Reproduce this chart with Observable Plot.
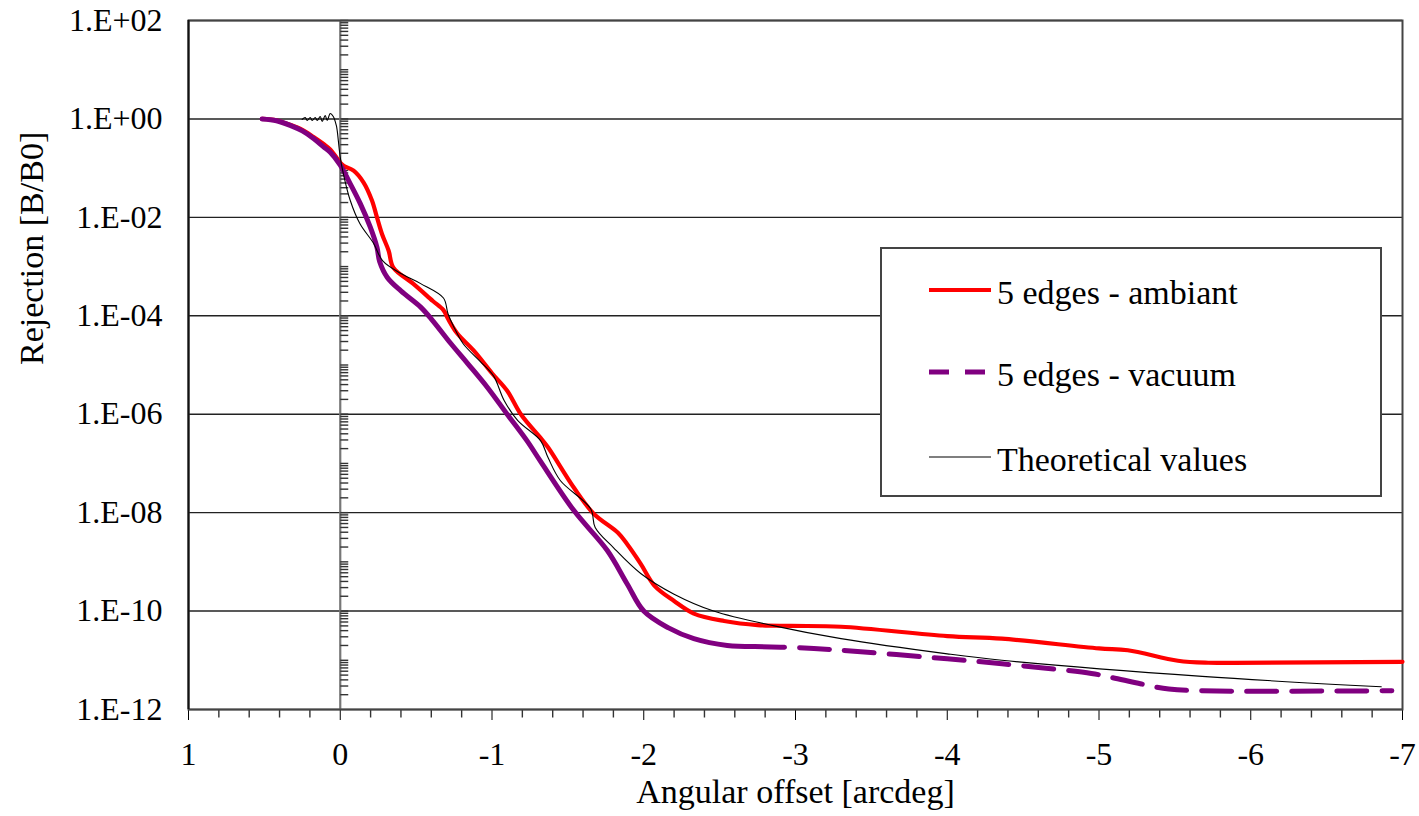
<!DOCTYPE html>
<html>
<head>
<meta charset="utf-8">
<script src="https://cdn.jsdelivr.net/npm/d3@7"></script>
<script src="https://cdn.jsdelivr.net/npm/@observablehq/plot@0.6"></script>
<style>
  html, body { margin: 0; padding: 0; background: #fff; }
  #wrap { position: relative; width: 1419px; height: 816px; font-family: "Liberation Serif", "Times New Roman", serif; }
  #legend { position: absolute; left: 880px; top: 247px; width: 498px; height: 246px; border: 2px solid #444; background: #fff; }
  .row { position: absolute; left: 0; width: 100%; height: 34px; }
  .row svg { position: absolute; left: 47px; top: 0; }
  .row span { position: absolute; left: 115px; font-family: "Liberation Serif", serif !important; font-size: 34px; line-height: 34px; color: #000; white-space: nowrap; }
</style>
</head>
<body>
<div id="wrap">
  <div id="chart"></div>
  <div id="legend"></div>
</div>
<script>
// ---- data ----
const xTickValues = [1, 0, -1, -2, -3, -4, -5, -6, -7];
const yTickValues = [1e2, 1e0, 1e-2, 1e-4, 1e-6, 1e-8, 1e-10, 1e-12];
const seriesNames = ["5 edges - ambiant", "5 edges - vacuum", "Theoretical values"];

const ambiantX = [0.515, 0.42, 0.33, 0.25, 0.176, 0.11, 0.066, 0, -0.022, -0.088, -0.154, -0.209, -0.242, -0.275, -0.319, -0.35, -0.48, -0.61, -0.68, -0.71, -0.77, -0.88, -1.0, -1.1, -1.19, -1.32, -1.37, -1.54, -1.67, -1.83, -1.89, -1.98, -2.07, -2.2, -2.33, -2.53, -2.75, -2.97, -3.3, -4.0, -4.36, -5.0, -5.19, -5.52, -5.72, -5.89, -7.0];
const ambiantY = [1, 0.93, 0.76, 0.6, 0.43, 0.31, 0.24, 0.13, 0.112, 0.089, 0.051, 0.022, 0.01, 4.6e-3, 2.1e-3, 9.5e-4, 4.5e-4, 2.0e-4, 1.3e-4, 8.7e-5, 4.4e-5, 1.95e-5, 6.8e-6, 3.0e-6, 1.0e-6, 3.3e-7, 2.1e-7, 3.2e-8, 9.5e-9, 3.9e-9, 2.3e-9, 9.1e-10, 3.3e-10, 1.6e-10, 8.9e-11, 6.3e-11, 5.2e-11, 5.0e-11, 4.8e-11, 3.1e-11, 2.75e-11, 1.74e-11, 1.6e-11, 9.8e-12, 8.9e-12, 8.9e-12, 9.3e-12];

const vacuumSolidX = [0.515, 0.42, 0.33, 0.25, 0.176, 0.11, 0.066, 0, -0.066, -0.132, -0.198, -0.242, -0.26, -0.31, -0.40, -0.53, -0.61, -0.73, -0.84, -0.97, -1.10, -1.23, -1.32, -1.54, -1.76, -1.89, -2.00, -2.16, -2.33, -2.55, -2.73];
const vacuumSolidY = [1, 0.92, 0.74, 0.57, 0.40, 0.27, 0.21, 0.115, 0.048, 0.019, 6.3e-3, 2.45e-3, 1.25e-3, 6.0e-4, 3.2e-4, 1.5e-4, 7.9e-5, 2.7e-5, 1.07e-5, 3.5e-6, 1.0e-6, 2.9e-7, 1.1e-7, 1.1e-8, 1.7e-9, 3.6e-10, 1.0e-10, 4.6e-11, 2.75e-11, 2.0e-11, 1.9e-11];
const vacuumDashX = [-2.73, -3.02, -3.30, -4.0, -4.36, -4.95, -5.08, -5.28, -5.46, -5.68, -6.93];
const vacuumDashY = [1.9e-11, 1.8e-11, 1.6e-11, 1.07e-11, 8.5e-12, 5.4e-12, 4.5e-12, 3.3e-12, 2.6e-12, 2.4e-12, 2.4e-12];

const theoryX = [0.251, 0.231, 0.218, 0.198, 0.185, 0.165, 0.152, 0.132, 0.119, 0.099, 0.086, 0.066, 0.046, 0.026, 0.02, 0, -0.02, -0.066, -0.13, -0.22, -0.28, -0.40, -0.53, -0.68, -0.71, -0.75, -0.81, -0.92, -1.01, -1.08, -1.17, -1.32, -1.37, -1.45, -1.65, -1.68, -1.80, -1.98, -2.20, -2.46, -2.86, -3.30, -4.0, -4.36, -5.68, -6.86];
const theoryY = [0.98, 1.07, 0.93, 1.07, 0.93, 1.07, 0.93, 1.12, 0.89, 1.17, 0.93, 1.29, 1.12, 0.74, 0.58, 0.166, 0.078, 0.022, 7.4e-3, 2.95e-3, 1.3e-3, 7.2e-4, 4.5e-4, 2.3e-4, 1.1e-4, 5.8e-5, 2.7e-5, 1.2e-5, 6.0e-6, 1.9e-6, 7.4e-7, 2.9e-7, 1.3e-7, 4.5e-8, 1.2e-8, 5.0e-9, 1.95e-9, 5.8e-10, 2.2e-10, 1.0e-10, 5.0e-11, 2.75e-11, 1.35e-11, 1.0e-11, 4.7e-12, 2.9e-12];

// ---- derived tables ----
const zip = (xs, ys) => xs.map((x, i) => ({x, y: ys[i]}));
const ambiant = zip(ambiantX, ambiantY);
const vacuumSolid = zip(vacuumSolidX, vacuumSolidY);
const vacuumDash = zip(vacuumDashX, vacuumDashY);
const theory = zip(theoryX, theoryY);

// minor ticks (axis decoration)
const xMinor = d3.range(-35, 6).map(i => i / 5).filter(v => !Number.isInteger(v));
const yMinor = [];
for (let p = -12; p < 2; p++) for (let k = 2; k <= 10; k++) yMinor.push(k * Math.pow(10, p));

const fmtY = v => {
  const p = Math.round(Math.log10(v));
  return "1.E" + (p >= 0 ? "+" : "-") + String(Math.abs(p)).padStart(2, "0");
};

const hTick = { draw(ctx) { ctx.moveTo(0, 0); ctx.lineTo(8, 0); } };
const vTick = { draw(ctx) { ctx.moveTo(0, 0); ctx.lineTo(0, 8); } };

const colors = ["#ff0000", "#800080", "#000000"];

const chart = Plot.plot({
  width: 1419,
  height: 816,
  marginLeft: 188,
  marginRight: 17,
  marginTop: 20,
  marginBottom: 107,
  style: { fontFamily: "Liberation Serif, Times New Roman, serif", fontSize: "32px", background: "#fff", color: "#000", overflow: "visible" },
  x: { domain: [1, -7], ticks: xTickValues, tickSize: 11, tickPadding: 22, tickFormat: d => String(d), label: null },
  y: { type: "log", domain: [1e-12, 1e2], ticks: yTickValues, tickSize: 0, tickPadding: 26, tickFormat: fmtY, label: null },
  marks: [
    Plot.ruleY(yTickValues, { stroke: "#222", strokeWidth: 1.4 }),
    Plot.ruleX([0], { stroke: "#777", strokeWidth: 2.2 }),
    Plot.dot(yMinor, { x: () => 0, y: d => d, symbol: hTick, r: 4, stroke: "#333", strokeWidth: 1.4, fill: "none" }),
    Plot.dot(xMinor, { x: d => d, y: () => 1e-12, symbol: vTick, r: 4, stroke: "#333", strokeWidth: 1.4, fill: "none" }),
    Plot.frame({ stroke: "#444", strokeWidth: 2 }),
    Plot.ruleX([1], { stroke: "#111", strokeWidth: 2 }),
    Plot.line(ambiant, { x: "x", y: "y", stroke: colors[0], strokeWidth: 4.2, curve: "catmull-rom" }),
    Plot.line(vacuumSolid, { x: "x", y: "y", stroke: colors[1], strokeWidth: 5, curve: "catmull-rom" }),
    Plot.line(vacuumDash, { x: "x", y: "y", stroke: colors[1], strokeWidth: 5, strokeDasharray: "30,15", curve: "catmull-rom" }),
    Plot.line(theory, { x: "x", y: "y", stroke: colors[2], strokeWidth: 1.1, curve: "catmull-rom" }),
    Plot.text(["Angular offset [arcdeg]"], { frameAnchor: "bottom", dy: 93, lineAnchor: "bottom", fontSize: 34 }),
    Plot.text(["Rejection [B/B0]"], { frameAnchor: "left", dx: -146, rotate: -90, lineAnchor: "bottom", fontSize: 34 })
  ]
});
document.getElementById("chart").appendChild(chart);

// legend
const legend = document.getElementById("legend");
const rowTops = [27, 109, 194];
const dashes = [null, "20,16", null];
const widths = [4, 5, 1.1];
seriesNames.forEach((name, i) => {
  const row = document.createElement("div");
  row.className = "row";
  row.style.top = rowTops[i] + "px";
  row.innerHTML = `<svg width="62" height="34"><line x1="0" x2="62" y1="14" y2="14" stroke="${colors[i]}" stroke-width="${widths[i]}" ${dashes[i] ? `stroke-dasharray="${dashes[i]}"` : ""}/></svg><span>${name}</span>`;
  legend.appendChild(row);
});
</script>
</body>
</html>
